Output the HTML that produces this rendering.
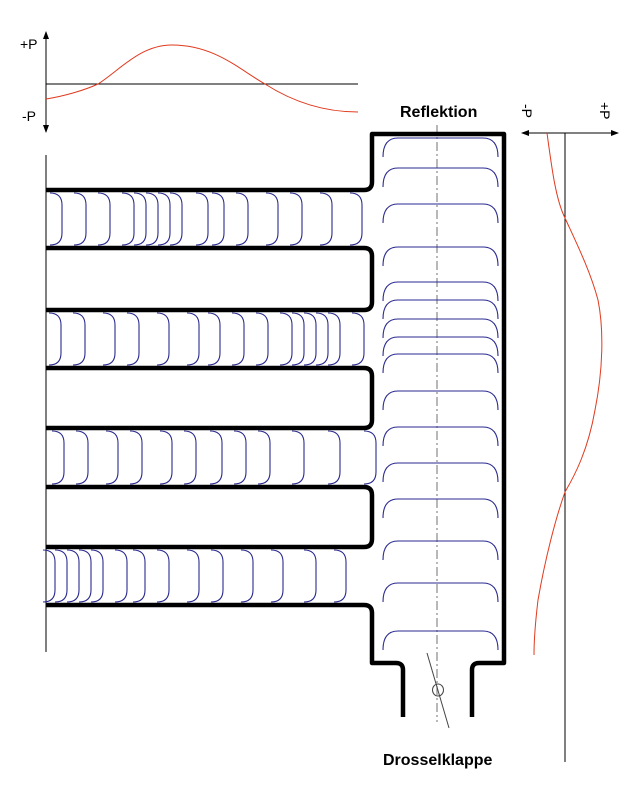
<!DOCTYPE html>
<html><head><meta charset="utf-8"><style>
html,body{margin:0;padding:0;background:#fff}
svg{display:block}
text{font-family:"Liberation Sans",sans-serif}
</style></head><body>
<svg width="630" height="810" viewBox="0 0 630 810" xmlns="http://www.w3.org/2000/svg">
<defs>
<marker id="ah" markerWidth="8" markerHeight="8" refX="7" refY="4" orient="auto" markerUnits="userSpaceOnUse"><path d="M0,1 L8,4 L0,7 z" fill="#000"/></marker>
</defs>
<!-- top chart -->
<line x1="46" y1="84" x2="46" y2="32" stroke="#000" marker-end="url(#ah)"/>
<line x1="46" y1="84" x2="46" y2="132" stroke="#000" marker-end="url(#ah)"/>
<line x1="46" y1="84" x2="358" y2="84" stroke="#000"/>
<text x="20" y="49" font-size="14">+P</text>
<text x="22" y="121" font-size="14">-P</text>
<path d="M46,99 C65,96 85,90 98,84 C120,70 140,45 172,45 C215,45 240,70 265,84 C290,100 320,112 358,112" fill="none" stroke="#e03a1e"/>
<!-- left axis -->
<line x1="46" y1="155" x2="46" y2="652" stroke="#000"/>
<!-- Reflektion -->
<text x="400" y="117" font-size="16" font-weight="bold">Reflektion</text>
<text x="383" y="765" font-size="16" font-weight="bold">Drosselklappe</text>
<!-- right chart -->
<line x1="565" y1="133" x2="522" y2="133" stroke="#000" marker-end="url(#ah)"/>
<line x1="565" y1="133" x2="618" y2="133" stroke="#000" marker-end="url(#ah)"/>
<line x1="565" y1="133" x2="565" y2="762" stroke="#000"/>
<text font-size="14" transform="translate(522,104) rotate(90)">-P</text>
<text font-size="14" transform="translate(600,102) rotate(90)">+P</text>
<path d="M547,133 C552,170 556,200 565,218 C575,240 590,270 598,300 C604,330 603,370 595,410 C588,450 575,475 565,492 C555,520 545,560 538,600 C535,625 534,640 534,655" fill="none" stroke="#e03a1e"/>
<!-- center dash-dot -->
<line x1="437" y1="125" x2="437" y2="722" stroke="#888" stroke-width="1.2" stroke-dasharray="9,3,2,3"/>
<!-- walls -->
<g fill="none" stroke="#000" stroke-width="4.5" stroke-linejoin="round">
<path d="M46,190 H364 Q372,190 372,182 V134 H504 V663 H479 Q472,663 472,670 V717"/>
<path d="M46,605 H364 Q372,605 372,613 V663 H396 Q403,663 403,670 V717"/>
<path d="M46,248 H364 Q372,248 372,256 V302 Q372,310 364,310 H46"/>
<path d="M46,368 H364 Q372,368 372,376 V420 Q372,428 364,428 H46"/>
<path d="M46,487 H364 Q372,487 372,495 V539 Q372,547 364,547 H46"/>
</g>
<!-- throttle -->
<line x1="427" y1="653" x2="449" y2="728" stroke="#444"/>
<ellipse cx="438" cy="690" rx="5.5" ry="6" fill="none" stroke="#444"/>
<!-- blue fronts -->
<g fill="none" stroke="#2a2a90" stroke-width="1.1" id="fronts"></g>
</svg>
<script>
(function(){
var g=document.getElementById('fronts'),s='';
function runner(top,bot,xs){xs.forEach(function(x){
 var t=top+3,b=bot-3;
 s+='<path d="M'+(x-12)+','+t+' Q'+x+','+t+' '+x+','+(t+12)+' V'+(b-12)+' Q'+x+','+b+' '+(x-12)+','+b+'"/>';
});}
runner(190,248,[62,86,110,134,146,158,170,182,208,224,248,278,302,332,362]);
runner(310,368,[61,85,115,139,169,199,220,244,268,292,304,316,328,340,364]);
runner(428,487,[64,88,118,142,172,196,222,246,270,304,340,376]);
runner(547,605,[55,67,79,91,103,127,145,169,199,223,253,283,316,346]);
[138,168,204,247,282,300,319,337,354,391,427,463,499,541,583,631].forEach(function(y){
 s+='<path d="M383,'+(y+19)+' Q383,'+y+' 398,'+y+' H483 Q498,'+y+' 498,'+(y+19)+'"/>';
});
g.innerHTML=s;
})();
</script>
</body></html>
